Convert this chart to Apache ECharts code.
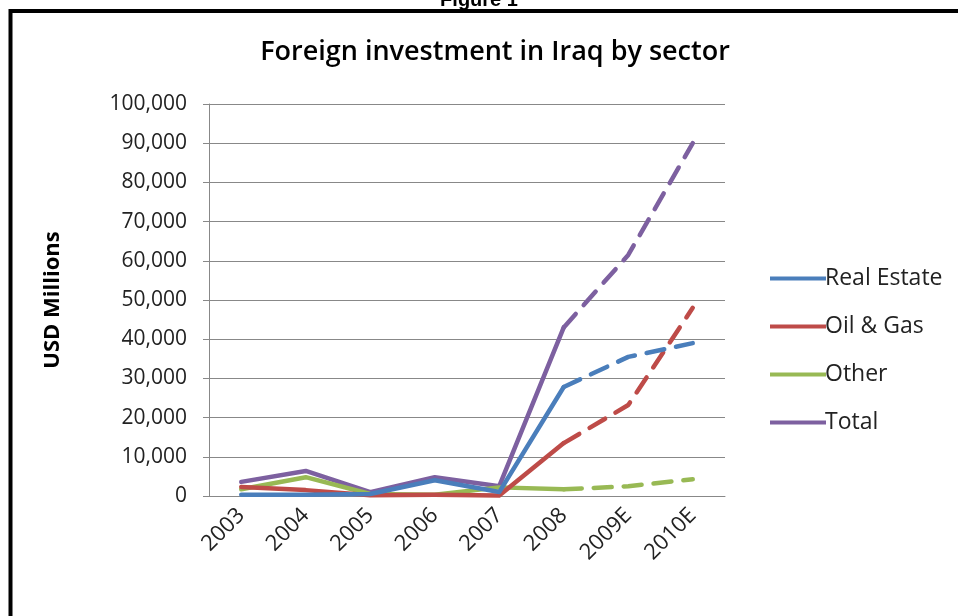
<!DOCTYPE html>
<html>
<head>
<meta charset="utf-8">
<script src="https://cdn.jsdelivr.net/npm/echarts@6/dist/echarts.min.js"></script>
<style>
    html, body { margin: 0; padding: 0; background: #fff; }
    #chart { width: 958px; height: 616px; }
</style>
</head>
<body>
<div id="chart"></div>
<script>
// categories and values (USD millions)
var years = ['2003', '2004', '2005', '2006', '2007', '2008', '2009E', '2010E'];
var realEstate = [300, 300, 500, 4000, 1000, 27800, 35500, 39000];
var oilGas = [2300, 1500, 200, 300, 100, 13500, 23200, 48000];
var other = [1700, 4800, 500, 300, 2200, 1700, 2500, 4300];
var total = [3600, 6400, 1000, 4800, 2500, 43000, 61500, 90000];
var yTicks = [0, 10000, 20000, 30000, 40000, 50000, 60000, 70000, 80000, 90000, 100000];

var names = ['Real Estate', 'Oil & Gas', 'Other', 'Total'];
var colors = ['#4A7EBB', '#BE4B48', '#98B954', '#7D60A0'];
var sets = [realEstate, oilGas, other, total];
var lastActual = 5; // 2008, after that it's estimates

var font = '"Open Sans", "Noto Sans", sans-serif';

function actualPart(arr) {
    return arr.map(function (v, i) { return i <= lastActual ? v : null; });
}
function estimatePart(arr) {
    return arr.map(function (v, i) { return i >= lastActual ? v : null; });
}

var series = [];
sets.forEach(function (arr, k) {
    series.push({
        name: names[k], type: 'line', data: actualPart(arr),
        symbol: 'none', smooth: false,
        lineStyle: {color: colors[k], width: 4.5, cap: 'round', join: 'round'},
        itemStyle: {color: colors[k]},
        z: 10 - k
    });
    series.push({
        name: names[k], type: 'line', data: estimatePart(arr),
        symbol: 'none',
        lineStyle: {color: colors[k], width: 4.5, type: [18, 12], cap: 'round'},
        itemStyle: {color: colors[k]},
        z: 10 - k
    });
});

var chart = echarts.init(document.getElementById('chart'));
chart.setOption({
    animation: false,
    backgroundColor: '#fff',
    title: {
        text: 'Foreign investment in Iraq by sector',
        left: 490, top: 34, textAlign: 'center',
        textStyle: {fontFamily: font, fontSize: 27, fontWeight: 600, color: '#000'}
    },
    graphic: [
        {type: 'text', left: 'center', top: -10,
            style: {text: 'Figure 1', font: 'bold 20px "Liberation Sans", Arial, sans-serif', fill: '#000'}},
        {type: 'rect', shape: {x: 10.5, y: 11, width: 1000, height: 700},
            style: {fill: null, stroke: '#000', lineWidth: 4}}
    ],
    legend: {
        orient: 'vertical', left: 765, top: 262, itemGap: 25,
        icon: 'rect', itemWidth: 56, itemHeight: 4,
        data: names,
        textStyle: {fontFamily: font, fontSize: 23, color: '#222', padding: [0, 0, 0, -6]}
    },
    grid: {left: 209, right: 233, top: 104, bottom: 120},
    xAxis: {
        type: 'category', data: years, boundaryGap: true,
        axisLine: {lineStyle: {color: '#888', width: 1}},
        axisTick: {show: false},
        axisLabel: {rotate: 45, fontFamily: font, fontSize: 22, color: '#222', margin: 16}
    },
    yAxis: {
        type: 'value', min: 0, max: 100000, interval: 10000,
        name: 'USD Millions', nameLocation: 'middle', nameGap: 145,
        nameTextStyle: {fontFamily: font, fontSize: 22, fontWeight: 'bold', color: '#000'},
        axisLine: {show: true, lineStyle: {color: '#888'}},
        axisTick: {show: true, length: 6, inside: false, lineStyle: {color: '#888'}},
        splitLine: {lineStyle: {color: '#888', width: 1}},
        axisLabel: {
            fontFamily: font, fontSize: 21, color: '#222', margin: 22,
            formatter: function (v) {
                return yTicks.indexOf(v) >= 0 ? v.toLocaleString('en-US') : '';
            }
        }
    },
    series: series
});
</script>
</body>
</html>
